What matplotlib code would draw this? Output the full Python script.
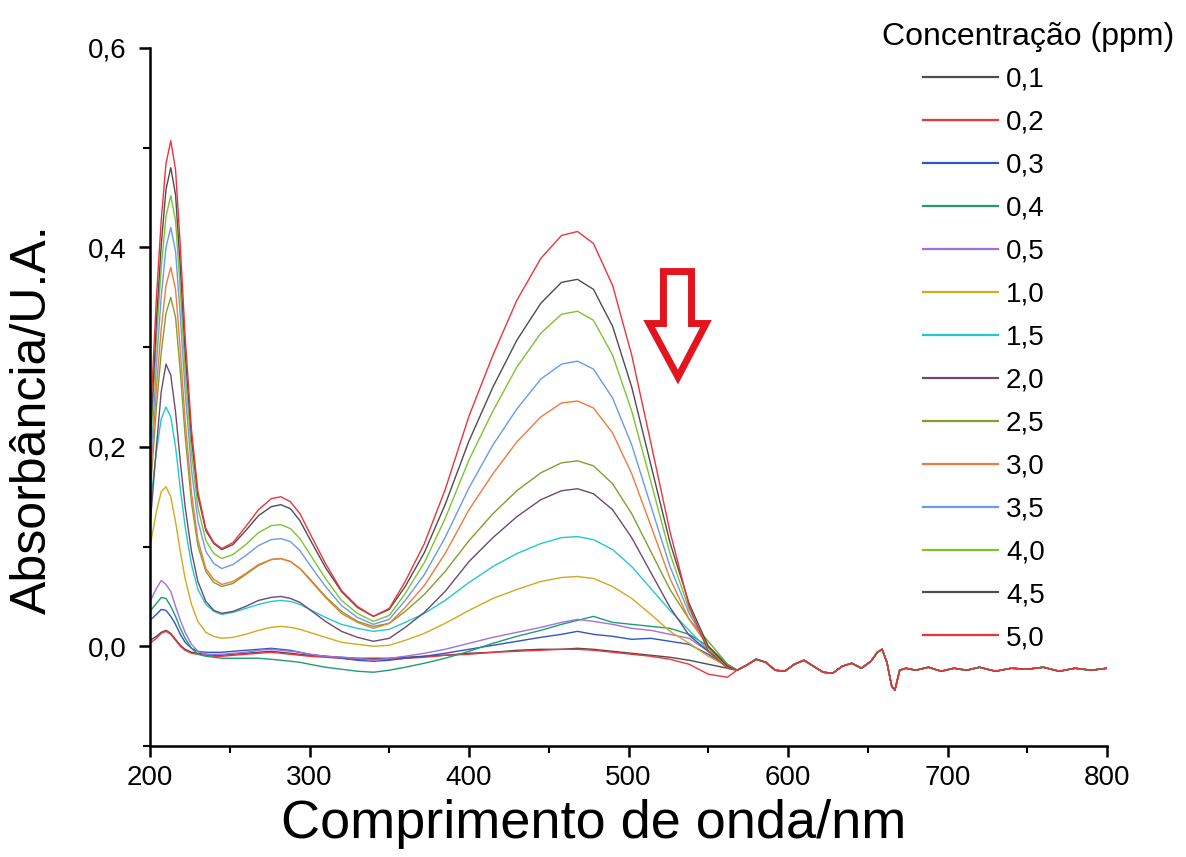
import numpy as np
import matplotlib
matplotlib.use("Agg")
import matplotlib.pyplot as plt
from matplotlib.patches import Polygon
from matplotlib.ticker import MultipleLocator, FuncFormatter

plt.rcParams['font.family'] = ['Liberation Sans', 'DejaVu Sans']

# comprimentos de onda (nm) - parte que muda com a concentracao
wl_main = [200, 204, 207, 210, 213, 216, 219, 222, 226, 230, 235, 240, 245,
           252, 260, 268, 276, 282, 288, 294, 300, 310, 320, 330, 340,
           350, 360, 372, 385, 400, 415, 430, 445, 458, 468, 478, 490, 502,
           514, 526, 538, 550, 562]

# cauda comum (todas as curvas se sobrepoem depois de ~565 nm)
tail_wl = [568, 574, 580, 586, 592, 598, 604, 610, 616, 622, 628, 634, 640,
           646, 652, 656, 659, 662, 665, 667, 670, 674, 680, 688, 696, 704,
           712, 720, 730, 740, 750, 760, 770, 780, 790, 800]
tail_abs = [-0.024, -0.019, -0.013, -0.016, -0.024, -0.025, -0.018, -0.014,
            -0.020, -0.026, -0.027, -0.020, -0.017, -0.022, -0.015, -0.006,
            -0.003, -0.016, -0.040, -0.044, -0.024, -0.022, -0.024, -0.021,
            -0.025, -0.022, -0.024, -0.021, -0.025, -0.022, -0.023, -0.021,
            -0.025, -0.022, -0.024, -0.022]

labels = ['0,1', '0,2', '0,3', '0,4', '0,5', '1,0', '1,5', '2,0',
          '2,5', '3,0', '3,5', '4,0', '4,5', '5,0']
colors = ['#4d4d4d', '#f0323c', '#2f55c8', '#1e9e6e', '#a070e0', '#d4a81c',
          '#22c8d0', '#6e4a6e', '#7fa030', '#f07a3c', '#6a9ae8', '#7cc432',
          '#4d4d4d', '#f0323c']

abs_01 = [.006, .010, .014, .016, .013, .007, .001, -.003, -.006, -.007, -.008, -.009, -.009,
          -.008, -.007, -.006, -.005, -.006, -.007, -.008, -.009, -.010, -.011, -.012, -.012,
          -.012, -.011, -.010, -.009, -.007, -.006, -.004, -.003, -.003, -.002, -.003, -.005,
          -.007, -.009, -.011, -.014, -.018, -.022]
abs_02 = [.003, .008, .013, .015, .012, .006, .000, -.004, -.007, -.008, -.009, -.010, -.010,
          -.009, -.008, -.007, -.006, -.007, -.008, -.009, -.010, -.011, -.012, -.013, -.013,
          -.013, -.012, -.011, -.009, -.008, -.006, -.005, -.004, -.003, -.003, -.004, -.006,
          -.008, -.010, -.013, -.018, -.028, -.031]
abs_03 = [.026, .032, .037, .036, .030, .022, .012, .004, -.002, -.005, -.006, -.006, -.006,
          -.005, -.004, -.003, -.002, -.003, -.004, -.006, -.008, -.010, -.012, -.014, -.015,
          -.014, -.012, -.010, -.007, -.003, .001, .005, .009, .012, .015, .012, .010,
          .007, .008, .005, .002, -.008, -.020]
abs_04 = [.035, .043, .049, .048, .040, .030, .018, .008, -.002, -.008, -.010, -.011, -.012,
          -.012, -.012, -.012, -.013, -.014, -.015, -.016, -.018, -.021, -.023, -.025, -.026,
          -.024, -.021, -.017, -.012, -.005, .003, .010, .016, .022, .026, .030, .024,
          .022, .020, .018, .012, .000, -.018]
abs_05 = [.045, .058, .066, .062, .055, .040, .026, .014, .002, -.005, -.008, -.008, -.008,
          -.007, -.006, -.004, -.003, -.004, -.005, -.006, -.008, -.010, -.011, -.012, -.014,
          -.012, -.010, -.007, -.003, .003, .009, .014, .019, .024, .027, .025, .022,
          .018, .016, .012, .008, -.005, -.020]
abs_10 = [.100, .135, .155, .160, .150, .125, .095, .068, .042, .025, .014, .010, .008,
          .009, .012, .016, .019, .020, .019, .017, .014, .009, .004, .002, .000,
          .001, .006, .013, .023, .036, .048, .057, .065, .069, .070, .068, .060,
          .048, .032, .015, .003, -.010, -.020]
abs_15 = [.140, .195, .228, .240, .230, .200, .158, .120, .082, .057, .042, .035, .032,
          .034, .038, .042, .045, .046, .045, .042, .037, .029, .022, .018, .015,
          .017, .024, .033, .046, .064, .080, .093, .103, .109, .110, .107, .097,
          .080, .058, .036, .016, -.004, -.020]
abs_20 = [.120, .200, .255, .283, .272, .235, .185, .140, .095, .065, .045, .036, .033,
          .035, .040, .046, .049, .050, .048, .044, .037, .025, .015, .009, .005,
          .008, .019, .034, .055, .085, .109, .130, .147, .156, .158, .153, .137,
          .109, .074, .039, .011, -.005, -.018]
abs_25 = [.150, .240, .294, .334, .350, .330, .275, .211, .144, .101, .075, .064, .060,
          .063, .072, .081, .087, .088, .085, .078, .068, .050, .035, .025, .020,
          .023, .035, .052, .075, .106, .133, .156, .174, .184, .186, .181, .163,
          .133, .095, .057, .027, .005, -.018]
abs_30 = [.160, .259, .318, .362, .380, .358, .297, .227, .154, .107, .078, .067, .062,
          .065, .073, .082, .087, .088, .085, .078, .067, .049, .033, .024, .018,
          .023, .039, .061, .093, .137, .173, .205, .230, .244, .246, .239, .214,
          .173, .121, .068, .027, .000, -.020]
abs_35 = [.170, .283, .350, .400, .420, .396, .331, .256, .177, .126, .095, .083, .078,
          .082, .091, .101, .107, .108, .105, .096, .082, .060, .041, .029, .022,
          .027, .046, .072, .109, .159, .202, .238, .268, .283, .286, .278, .249,
          .202, .141, .080, .033, .000, -.020]
abs_40 = [.190, .308, .379, .431, .452, .427, .357, .277, .194, .139, .106, .093, .088,
          .092, .102, .114, .121, .122, .118, .108, .093, .068, .046, .033, .025,
          .031, .053, .084, .128, .187, .236, .280, .314, .333, .336, .327, .292,
          .236, .165, .093, .037, -.002, -.020]
abs_45 = [.200, .326, .402, .458, .480, .453, .380, .296, .208, .151, .116, .103, .097,
          .102, .116, .131, .140, .142, .138, .126, .108, .079, .055, .039, .030,
          .037, .060, .094, .142, .206, .260, .307, .344, .365, .368, .358, .321,
          .260, .182, .104, .043, .000, -.020]
abs_50 = [.220, .349, .427, .484, .507, .478, .401, .311, .217, .155, .118, .104, .098,
          .104, .120, .137, .148, .150, .145, .133, .114, .083, .056, .040, .030,
          .038, .065, .103, .157, .231, .292, .347, .389, .412, .416, .404, .362,
          .292, .204, .115, .040, -.005, -.022]

series = [abs_01, abs_02, abs_03, abs_04, abs_05, abs_10, abs_15, abs_20,
          abs_25, abs_30, abs_35, abs_40, abs_45, abs_50]

# seta vermelha (indicacao), coordenadas em dados
arrow_xy = [(521.9, 0.3758), (539.5, 0.3758), (539.5, 0.3237), (548.6, 0.3237),
            (531.0, 0.270), (512.9, 0.3237), (521.9, 0.3237)]

fig = plt.figure(figsize=(11.86, 8.57), dpi=100)
ax = fig.add_axes([0.1265, 0.1295, 0.8069, 0.8145])

x = np.array(wl_main + tail_wl)
for lab, col, ys in zip(labels, colors, series):
    ax.plot(x, np.array(ys + tail_abs), color=col, lw=1.0, label=lab)

ax.add_patch(Polygon(arrow_xy, closed=True, facecolor='white',
                     edgecolor='#e3141e', lw=5, joinstyle='miter', zorder=5))

ax.set_xlim(200, 800)
ax.set_ylim(-0.1, 0.6)
ax.spines['top'].set_visible(False)
ax.spines['right'].set_visible(False)
ax.spines['left'].set_linewidth(1.8)
ax.spines['bottom'].set_linewidth(1.8)

ax.xaxis.set_major_locator(MultipleLocator(100))
ax.xaxis.set_minor_locator(MultipleLocator(50))
ax.yaxis.set_major_locator(MultipleLocator(0.2))
ax.yaxis.set_minor_locator(MultipleLocator(0.1))
ax.yaxis.set_major_formatter(FuncFormatter(lambda v, p: f"{v:.1f}".replace('.', ',').replace('-0,0', '0,0')))
ax.tick_params(which='major', direction='out', length=8, width=1.8, labelsize=20)
ax.tick_params(axis='x', which='major', pad=6)
ax.tick_params(axis='y', which='major', pad=9)
ax.tick_params(which='minor', direction='out', length=5, width=1.5)

ax.set_xlabel('Comprimento de onda/nm', fontsize=39)
ax.xaxis.set_label_coords(0.464, -0.076)
ax.set_ylabel('Absorbância/U.A.', fontsize=36)
ax.yaxis.set_label_coords(-0.122, 0.468)
ax.yaxis.label.set_va('center')

fig.text(0.744, 0.957, 'Concentração (ppm)', fontsize=23, ha='left', va='center')
fig.legend(loc='upper left', bbox_to_anchor=(0.778, 0.922), frameon=False,
           fontsize=20, handlelength=2.7, handletextpad=0.3, labelspacing=0.61,
           borderpad=0, borderaxespad=0)
for h in fig.legends[0].get_lines():
    h.set_linewidth(1.6)

fig.savefig('out.png', dpi=100)
